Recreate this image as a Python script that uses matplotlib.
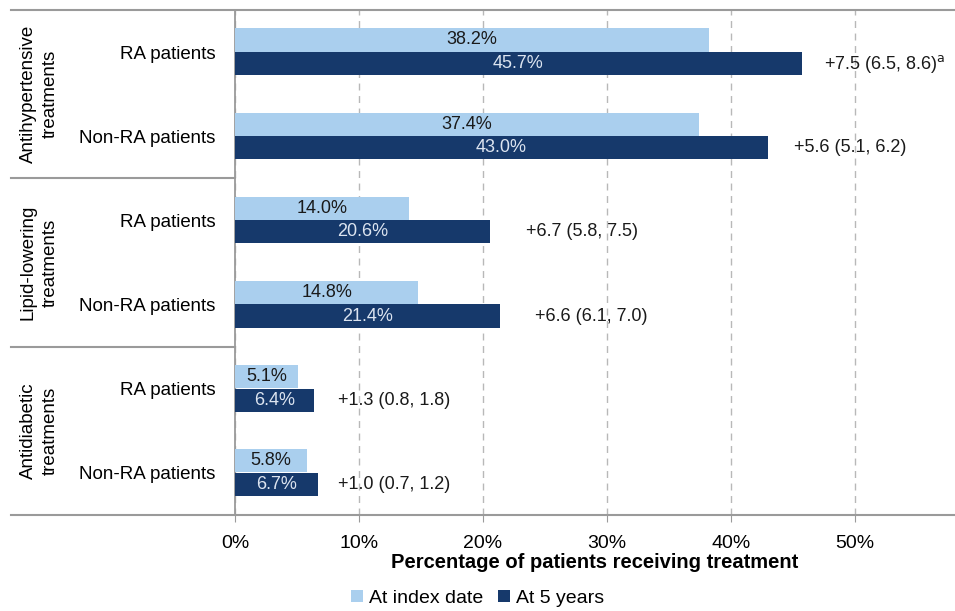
import matplotlib.pyplot as plt
import matplotlib.transforms as mtransforms

plt.rcParams['font.family'] = ['Liberation Sans Narrow', 'Liberation Sans', 'DejaVu Sans']

# Data
groups = ["Antihypertensive\ntreatments", "Lipid-lowering\ntreatments", "Antidiabetic\ntreatments"]
categories = ["RA patients", "Non-RA patients"] * 3
at_index = [38.2, 37.4, 14.0, 14.8, 5.1, 5.8]
at_5_years = [45.7, 43.0, 20.6, 21.4, 6.4, 6.7]
differences = ["+7.5 (6.5, 8.6)$^{\\mathrm{a}}$", "+5.6 (5.1, 6.2)", "+6.7 (5.8, 7.5)",
               "+6.6 (6.1, 7.0)", "+1.3 (0.8, 1.8)", "+1.0 (0.7, 1.2)"]
diff_offsets = [1.8, 2.1, 2.9, 2.8, 1.9, 1.6]
xticks = [0, 10, 20, 30, 40, 50]

light = '#aacfee'
dark = '#16396b'
line_col = '#9a9a9a'

fig = plt.figure(figsize=(9.55, 6.11), dpi=100)
ax = fig.add_axes([0.246, 0.157, 0.753, 0.8265])

y = list(range(len(categories)))
h = 0.275
ax.barh([v - 0.145 for v in y], at_index, height=h, color=light, label='At index date', zorder=3)
ax.barh([v + 0.135 for v in y], at_5_years, height=h, color=dark, label='At 5 years', zorder=3)

for i in y:
    ax.text(at_index[i] / 2, i - 0.145, f"{at_index[i]:.1f}%", ha='center', va='center',
            fontsize=13, color='#1a1a1a', zorder=4)
    ax.text(at_5_years[i] / 2, i + 0.135, f"{at_5_years[i]:.1f}%", ha='center', va='center',
            fontsize=13, color='#dce4f0', zorder=4)
    ax.text(at_5_years[i] + diff_offsets[i], i + 0.135, differences[i], ha='left', va='center',
            fontsize=13, color='#1a1a1a', zorder=4)

ax.set_xlim(0, 58)
ax.set_ylim(len(categories) - 0.5, -0.5)
ax.set_xticks(xticks)
ax.set_xticklabels([f"{t}%" for t in xticks], fontsize=14)
ax.set_yticks(y)
ax.set_yticklabels(categories, fontsize=13.5)
ax.tick_params(axis='y', length=0, pad=14)
ax.tick_params(axis='x', length=5, color=line_col, pad=9)
ax.xaxis.grid(True, linestyle=(0, (5, 4)), color='#b8b8b8', linewidth=1, zorder=0)

for side in ['top', 'right', 'bottom']:
    ax.spines[side].set_visible(False)
ax.spines['left'].set_color(line_col)
ax.spines['left'].set_linewidth(1.3)

# full-width top and bottom lines plus group separators on the left
trans = mtransforms.blended_transform_factory(fig.transFigure, ax.transData)
for yy in [-0.5, len(categories) - 0.5]:
    ax.plot([0.011, 0.999], [yy, yy], color=line_col, linewidth=1.5, transform=trans, clip_on=False)
for yy in [1.5, 3.5]:
    ax.plot([0.011, 0.246], [yy, yy], color=line_col, linewidth=1.5, transform=trans, clip_on=False)

for g, name in enumerate(groups):
    ax.text(0.041, 2 * g + 0.5, name, rotation=90, ha='center', va='center', fontsize=13.5,
            transform=trans, linespacing=1.35)

ax.set_xlabel('Percentage of patients receiving treatment', fontsize=14.5, fontweight='bold', labelpad=1)

fig.legend(loc='lower center', bbox_to_anchor=(0.5, -0.022), ncol=2, frameon=False, fontsize=14,
           handlelength=0.6, handleheight=0.6, handletextpad=0.3, columnspacing=0.8)

fig.savefig('out.png', dpi=100)
